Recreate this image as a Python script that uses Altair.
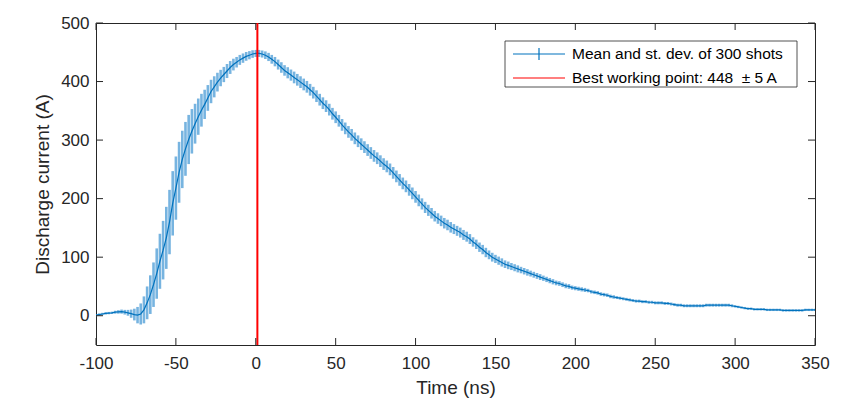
import altair as alt
import pandas as pd

# ---- data ----
T_START = -100   # ns, first sample
T_STEP = 2       # ns, sample spacing

MEAN = [
    1, 2, 3, 4, 4.5, 5, 6, 6.5, 7, 6,
    5, 3.5, 2, 1, 3, 10, 22, 36, 53, 72,
    93, 112, 133, 160, 192, 218, 245, 267, 285, 301,
    315, 328, 340, 351, 361, 372, 383, 391, 399, 406,
    412, 418, 424, 429, 433, 437, 440, 443, 445, 447,
    448, 448, 447, 445, 442, 438, 434, 429, 424, 419,
    415, 411, 407, 403, 399, 395, 391, 386, 381, 375,
    369, 363, 358, 352, 345, 339, 333, 326, 320, 314,
    309, 303, 298, 293, 288, 283, 278, 273, 269, 264,
    259, 255, 250, 244, 238, 232, 226, 221, 215, 209,
    203, 197, 191, 185, 180, 175, 170, 166, 162, 158,
    155, 151, 148, 145, 142, 138, 135, 131, 126, 122,
    117, 113, 108, 104, 100, 97, 94, 91, 88, 86,
    84, 82, 80, 78, 76, 74, 72, 70, 68, 66,
    64, 62, 60, 58, 56, 55, 53, 51, 50, 48,
    47, 46, 45, 44, 43, 41, 40, 39, 37, 36,
    35, 33, 32, 31, 30, 29, 28, 27, 26, 25,
    25, 24, 24, 23, 23, 22, 22, 22, 21, 21,
    20, 19, 18, 18, 17, 17, 17, 17, 17, 17,
    17, 18, 18, 18, 18, 18, 18, 18, 18, 17,
    16, 15, 14, 13, 12, 12, 11, 11, 11, 11,
    10, 10, 10, 10, 10, 9, 9, 9, 9, 9,
    9, 9, 10, 10, 10, 10,
]

STD = [
    2, 2, 2, 2, 2, 2, 2.5, 3, 3.5, 4,
    5, 7, 10, 14, 18, 23, 28, 33, 38, 43,
    47, 50, 53, 55, 55, 54, 52, 49, 46, 42,
    38, 34, 31, 28, 25, 22, 20, 18, 16, 14,
    13, 12, 11, 10, 9, 8.5, 8, 7.5, 7, 6.5,
    6, 6, 6, 6.5, 7, 7.5, 8, 8.5, 9, 9,
    9.5, 9.5, 10, 10, 10, 10, 10, 10, 10, 10,
    10, 10, 10, 10, 10, 10, 10, 10, 10, 10,
    10, 10, 10, 10, 10, 10, 10, 10, 10, 10,
    10, 10, 10, 10, 10, 10, 10, 10, 10, 10,
    10, 10, 9.5, 9.5, 9.5, 9, 9, 9, 9, 9,
    9, 9, 8.5, 8.5, 8.5, 8.5, 8.5, 8.5, 8, 8,
    8, 8, 8, 7.5, 7.5, 7, 7, 7, 6.5, 6.5,
    6, 6, 6, 5.5, 5.5, 5.5, 5, 5, 5, 5,
    4.5, 4.5, 4.5, 4.5, 4, 4, 4, 4, 4, 3.5,
    3.5, 3.5, 3.5, 3.5, 3, 3, 3, 3, 3, 3,
    3, 3, 3, 2.5, 2.5, 2.5, 2.5, 2.5, 2.5, 2.5,
    2.5, 2.5, 2.5, 2.5, 2.5, 2.5, 2.5, 2.5, 2.5, 2.5,
    2.5, 2.5, 2.5, 2.5, 2.5, 2.5, 2.5, 2.5, 2.5, 2.5,
    2.5, 2.5, 2.5, 2.5, 2.5, 2.5, 2.5, 2.5, 2.5, 2.5,
    2, 2, 2, 2, 2, 2, 2, 2, 2, 2,
    2, 2, 2, 2, 2, 2, 2, 2, 2, 2,
    2, 2, 2, 2, 2, 2,
]

TIME = [T_START + T_STEP * i for i in range(len(MEAN))]

X_TICKS = [-100, -50, 0, 50, 100, 150, 200, 250, 300, 350]
Y_TICKS = [0, 100, 200, 300, 400, 500]
X_DOMAIN = [-100, 350]
Y_DOMAIN = [-50, 500]

BEST_TIME = 1          # ns
LEGEND_LABELS = ["Mean and st. dev. of 300 shots",
                 "Best working point: 448\u00a0\u00a0\u00b1 5 A"]
X_TITLE = "Time (ns)"
Y_TITLE = "Discharge current (A)"

# ---- styling ----
FONT = "Liberation Sans"
AX_C = "#262626"
BLUE = "#0072BD"
RED = "#FF0000"
W, H = 719, 322
TICK_LEN = 7
LABEL_EXPR = "replace(datum.label, '\u2212', '-')"

df = pd.DataFrame({"t": TIME, "mean": MEAN, "std": STD})
df["lo"] = df["mean"] - df["std"]
df["hi"] = df["mean"] + df["std"]

xs = alt.Scale(domain=X_DOMAIN, nice=False, zero=False)
ys = alt.Scale(domain=Y_DOMAIN, nice=False, zero=False)

x_axis = alt.Axis(values=X_TICKS, tickSize=0, domain=False, grid=False,
                  labelFont=FONT, labelFontSize=17, labelColor=AX_C,
                  labelPadding=10, labelFlush=False, labelExpr=LABEL_EXPR,
                  titleFont=FONT, titleFontSize=19, titleFontWeight="normal",
                  titleColor=AX_C, titlePadding=7)
y_axis = alt.Axis(values=Y_TICKS, tickSize=0, domain=False, grid=False,
                  labelFont=FONT, labelFontSize=17, labelColor=AX_C,
                  labelPadding=7, labelFlush=False, labelExpr=LABEL_EXPR,
                  titleFont=FONT, titleFontSize=19, titleFontWeight="normal",
                  titleColor=AX_C, titlePadding=8)

base = alt.Chart(df)
bars = base.mark_rule(color="#4A9BD6", strokeWidth=2.6, opacity=0.75, clip=True).encode(
    x=alt.X("t:Q", scale=xs, axis=x_axis, title=X_TITLE),
    y=alt.Y("lo:Q", scale=ys, axis=y_axis, title=Y_TITLE),
    y2="hi:Q",
)
line = base.mark_line(color=BLUE, strokeWidth=1.2, clip=True).encode(
    x=alt.X("t:Q", scale=xs, title=X_TITLE),
    y=alt.Y("mean:Q", scale=ys, title=Y_TITLE),
)
best = alt.Chart(pd.DataFrame({"t": [BEST_TIME]})).mark_rule(
    color=RED, strokeWidth=2).encode(x=alt.X("t:Q", scale=xs, title=X_TITLE))

xt = alt.Chart(pd.DataFrame({"t": X_TICKS}))
yt = alt.Chart(pd.DataFrame({"mean": Y_TICKS}))
tick_style = dict(color=AX_C, strokeWidth=1)
xtick_b = xt.mark_rule(**tick_style).encode(
    x=alt.X("t:Q", scale=xs, title=X_TITLE), y=alt.value(H), y2=alt.value(H - TICK_LEN))
xtick_t = xt.mark_rule(**tick_style).encode(
    x=alt.X("t:Q", scale=xs, title=X_TITLE), y=alt.value(0), y2=alt.value(TICK_LEN))
ytick_l = yt.mark_rule(**tick_style).encode(
    y=alt.Y("mean:Q", scale=ys, title=Y_TITLE), x=alt.value(0), x2=alt.value(TICK_LEN))
ytick_r = yt.mark_rule(**tick_style).encode(
    y=alt.Y("mean:Q", scale=ys, title=Y_TITLE), x=alt.value(W), x2=alt.value(W - TICK_LEN))

# ---- legend (drawn box) ----
one = alt.Chart(pd.DataFrame({"k": [0]}))
leg_box = one.mark_rect(fill="white", stroke=AX_C, strokeWidth=0.8).encode(
    x=alt.value(409), x2=alt.value(701), y=alt.value(18), y2=alt.value(64))
leg_blue = one.mark_rule(color=BLUE, strokeWidth=1.2).encode(
    x=alt.value(417), x2=alt.value(469), y=alt.value(31))
leg_cross = one.mark_rule(color=BLUE, strokeWidth=1.2).encode(
    x=alt.value(443), y=alt.value(25), y2=alt.value(37))
leg_red = one.mark_rule(color=RED, strokeWidth=1.2).encode(
    x=alt.value(417), x2=alt.value(469), y=alt.value(55))
txt_style = dict(align="left", baseline="middle", font=FONT, fontSize=15.5, color="#000000")
leg_t1 = one.mark_text(**txt_style).encode(
    x=alt.value(476), y=alt.value(31), text=alt.value(LEGEND_LABELS[0]))
leg_t2 = one.mark_text(**txt_style).encode(
    x=alt.value(476), y=alt.value(55), text=alt.value(LEGEND_LABELS[1]))

chart = alt.layer(
    bars, line, best, xtick_b, xtick_t, ytick_l, ytick_r,
    leg_box, leg_blue, leg_cross, leg_red, leg_t1, leg_t2,
).properties(
    width=W, height=H,
    autosize=alt.AutoSizeParams(type="none"),
    padding={"left": 96, "top": 23, "right": 38, "bottom": 54},
    background="white",
).configure_view(stroke=AX_C, strokeWidth=1)

chart.save("out.html", embed_options={"renderer": "svg", "actions": False})
